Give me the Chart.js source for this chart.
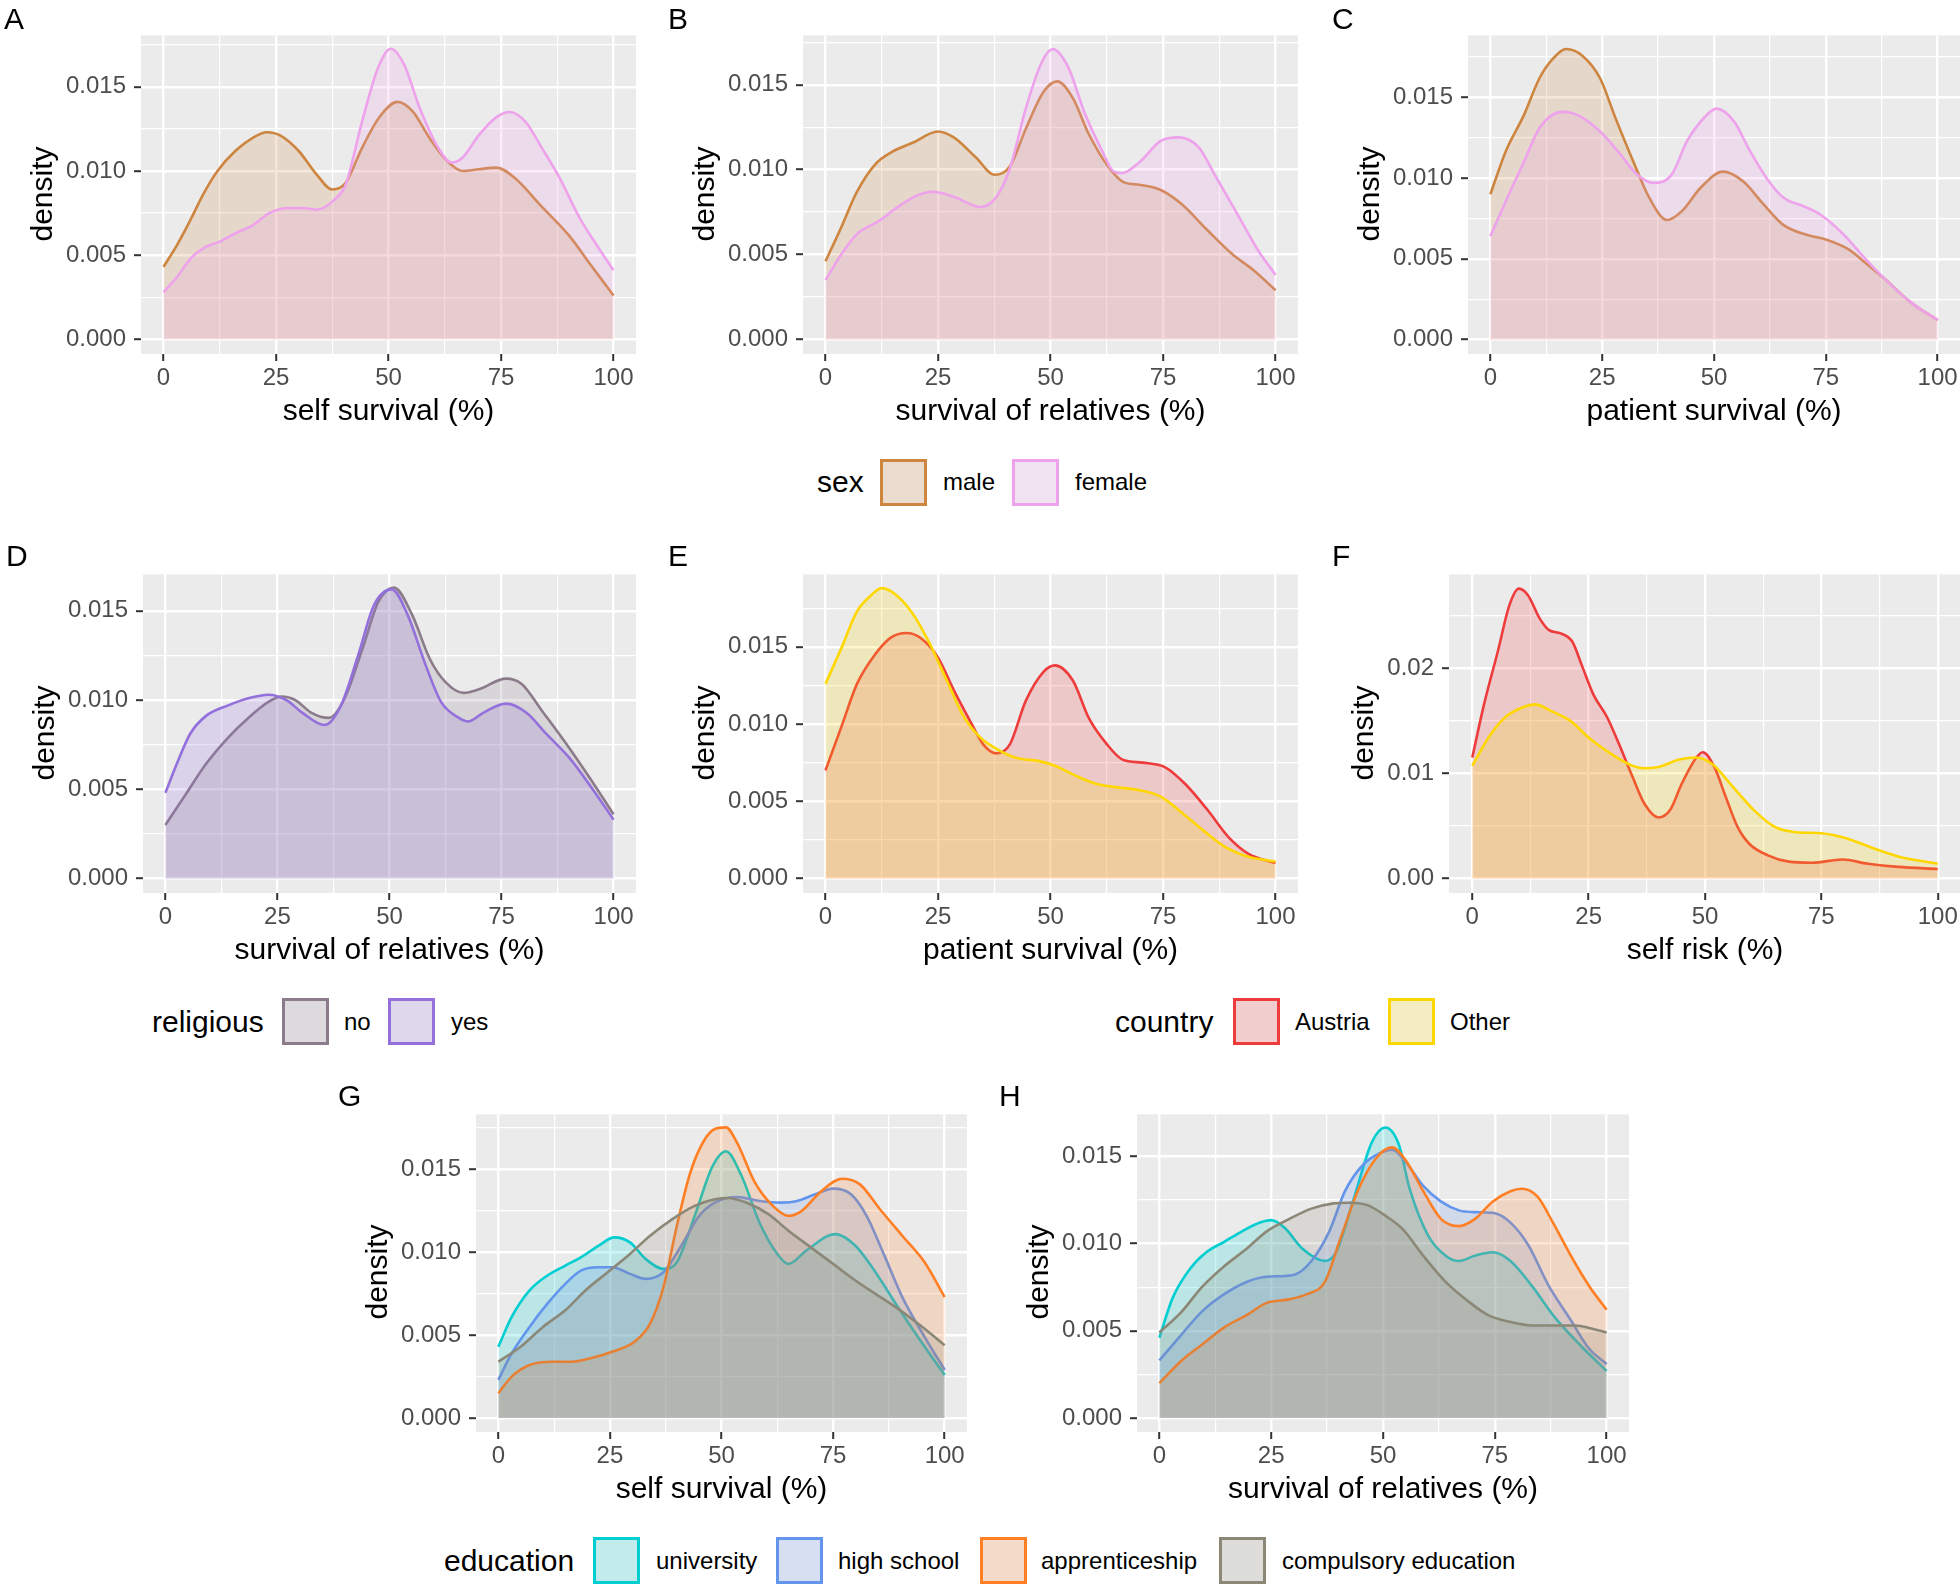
<!DOCTYPE html>
<html><head><meta charset="utf-8">
<script src="https://cdn.jsdelivr.net/npm/chart.js@4.4.1/dist/chart.umd.min.js"></script>
<style>
html,body{margin:0;padding:0;background:#fff;}
body{width:1960px;height:1589px;position:relative;overflow:hidden;font-family:'Liberation Sans',Arial,Helvetica,sans-serif;}
canvas{position:absolute;}
.t{position:absolute;white-space:nowrap;color:#000;}
.key{position:absolute;box-sizing:border-box;width:47px;height:47px;border:3px solid;}
</style></head><body>
<script>
// ---------------- DATA ----------------
const X_MAJOR = [0, 25, 50, 75, 100];
const X_LABELS = ['0', '25', '50', '75', '100'];
const Y_MAJOR = [0, 0.005, 0.010, 0.015];
const Y_LABELS = ['0.000', '0.005', '0.010', '0.015'];
const Y_MAJOR_F = [0, 0.01, 0.02];
const Y_LABELS_F = ['0.00', '0.01', '0.02'];

const SEX = ['male', 'female'];
const RELIGIOUS = ['no', 'yes'];
const COUNTRY = ['Austria', 'Other'];
const EDUCATION = ['university', 'high school', 'apprenticeship', 'compulsory education'];

// A: self survival by sex
const A_male = [[0,0.0043],[3,0.0056],[6,0.0071],[9,0.0087],[12,0.0100],[16,0.0112],[20,0.0120],[23,0.0123],[26,0.0121],[30,0.0112],[34,0.0098],[37.5,0.0089],[40.5,0.0093],[44,0.0113],[48,0.0132],[52,0.0141],[55.5,0.0135],[59,0.0120],[63,0.0106],[66.5,0.0100],[70,0.0101],[74,0.0102],[78,0.0096],[84,0.0079],[90,0.0062],[95,0.0044],[100,0.0026]];
const A_female = [[0,0.0028],[3,0.0037],[6,0.0048],[9.5,0.0055],[12.5,0.0058],[16,0.0063],[20,0.0068],[23.5,0.0075],[28,0.0078],[31,0.0078],[34,0.0077],[38,0.0083],[40.5,0.0092],[44,0.0128],[47.5,0.0160],[50.5,0.01726],[53.5,0.0163],[57,0.0137],[61,0.0114],[64,0.0105],[66.5,0.0108],[70,0.0121],[74,0.0132],[77,0.0135],[80.5,0.0129],[84,0.0114],[88,0.0096],[92.5,0.0072],[96.5,0.0055],[100,0.0041]];
// B: survival of relatives by sex
const B_male = [[0,0.0046],[3.5,0.0066],[7,0.0087],[11,0.0103],[14.5,0.0110],[19.5,0.0116],[25,0.01225],[28.5,0.0119],[33.5,0.0107],[37.5,0.0097],[41,0.0102],[44.5,0.0124],[48.5,0.0146],[51.5,0.0152],[55,0.0142],[58.5,0.0121],[62.5,0.0103],[66,0.0093],[70,0.0091],[74.5,0.0088],[79,0.0080],[85,0.0064],[90.5,0.0050],[95,0.0041],[100,0.0029]];
const B_female = [[0,0.0035],[3.5,0.0050],[7,0.0062],[12,0.0070],[15.5,0.0077],[20.5,0.0085],[24,0.0087],[28.5,0.0084],[34.5,0.0078],[38,0.0084],[41,0.0101],[44.5,0.0136],[48,0.0163],[50.5,0.0171],[54,0.0160],[57.5,0.0134],[61.5,0.0111],[64,0.0099],[66,0.0098],[70,0.0105],[74.5,0.0117],[78.5,0.0119],[83,0.0113],[86.5,0.0097],[91.5,0.0074],[96,0.0053],[100,0.0038]];
// C: patient survival by sex
const C_male = [[0,0.0090],[3.5,0.0117],[7.5,0.0139],[11,0.0162],[14,0.0174],[17,0.0180],[20.5,0.0176],[24.5,0.0162],[28,0.0137],[32,0.0110],[35.5,0.0088],[39.5,0.0074],[43,0.0080],[47,0.0094],[52,0.0104],[56.5,0.0098],[61,0.0084],[65.5,0.0071],[70.5,0.0065],[75,0.0062],[80,0.0056],[84.5,0.0046],[88,0.0038],[94,0.0023],[100,0.0012]];
const C_female = [[0,0.0064],[3.5,0.0086],[7.5,0.0110],[11,0.0131],[16,0.0141],[19.5,0.0139],[24.5,0.0129],[29,0.0115],[32.5,0.0103],[36.5,0.0097],[40.5,0.0102],[44,0.0123],[48,0.0138],[50.5,0.0143],[54.5,0.0135],[58,0.0117],[62,0.0099],[65.5,0.0088],[70.5,0.0082],[74,0.0077],[79,0.0065],[83.5,0.0051],[88,0.0038],[94,0.0023],[100,0.0012]];
// D: survival of relatives by religious
const D_no = [[0,0.0030],[4.5,0.0047],[9,0.0064],[14,0.0079],[18.5,0.0090],[23,0.0099],[26,0.0102],[29,0.0100],[32.5,0.0093],[36.5,0.0090],[40,0.0101],[44,0.0129],[47.5,0.0155],[51,0.0163],[55,0.0148],[59,0.0123],[62.5,0.0110],[66.5,0.0104],[70,0.0106],[76,0.0112],[79.5,0.0109],[84,0.0094],[89,0.0077],[94.5,0.0057],[100,0.0036]];
const D_yes = [[0,0.0048],[2.5,0.0064],[5.5,0.0081],[9,0.0091],[14,0.0097],[18.5,0.0101],[23,0.0103],[27,0.0100],[30.5,0.0093],[35.5,0.0086],[39,0.0096],[43,0.0125],[46.5,0.0153],[50.5,0.0162],[54,0.0148],[58,0.0120],[61.5,0.0099],[65.5,0.0090],[67.5,0.0088],[71,0.0093],[76,0.0098],[80.5,0.0093],[85,0.0081],[90,0.0068],[94.5,0.0053],[100,0.0033]];
// E: patient survival by country
const E_austria = [[0,0.0070],[3.5,0.0098],[7,0.0126],[11,0.0145],[14.5,0.0156],[18,0.0159],[21,0.0156],[25,0.0143],[28.5,0.0122],[32.5,0.0100],[35,0.0087],[38,0.0081],[41,0.0087],[44.5,0.0115],[48.5,0.0134],[51,0.0138],[55,0.0128],[58.5,0.0104],[62.5,0.0087],[66,0.0077],[70.5,0.0075],[75.5,0.0072],[80,0.0061],[85,0.0044],[89.5,0.0027],[94,0.0016],[100,0.0010]];
const E_other = [[0,0.0126],[3.5,0.0149],[7,0.0173],[10,0.0183],[12.5,0.0188],[15.5,0.0184],[19.5,0.0171],[23,0.0153],[27,0.0128],[30.5,0.0106],[34.5,0.0091],[38,0.0084],[42.5,0.0078],[47.5,0.0076],[51,0.0073],[56,0.0066],[60.5,0.0061],[65,0.0059],[70,0.0057],[74.5,0.0053],[79,0.0043],[84,0.0031],[88.5,0.0021],[94,0.0014],[100,0.0011]];
// F: self risk by country
const F_austria = [[0,0.0115],[2.5,0.0165],[5.5,0.0216],[8,0.0260],[10,0.02755],[12,0.0269],[14.5,0.0247],[16.5,0.0236],[19,0.0233],[21.5,0.0225],[23.5,0.0203],[26,0.0175],[29,0.0153],[31.5,0.0128],[34.5,0.0096],[37,0.0071],[40,0.0058],[42.5,0.0065],[45,0.0090],[48,0.0114],[49.5,0.0120],[52,0.0106],[54.5,0.0077],[57,0.0049],[59.5,0.0033],[63.5,0.0022],[68,0.0016],[73,0.0015],[79.5,0.0018],[85,0.0014],[91.5,0.0011],[100,0.0009]];
const F_other = [[0,0.0107],[3.5,0.0134],[7,0.0153],[11,0.0163],[13.5,0.01655],[17,0.0159],[21,0.0150],[25.5,0.0132],[30,0.0118],[34.5,0.0107],[37,0.01047],[40,0.0106],[44.5,0.0113],[48,0.0115],[51.5,0.0109],[56,0.0087],[60.5,0.0065],[65,0.0049],[69.5,0.0044],[75,0.0043],[80.5,0.0038],[86,0.0029],[91.5,0.0021],[100,0.0014]];
// G: self survival by education
const G_university = [[0,0.0043],[3,0.0061],[7,0.0077],[11,0.0086],[15,0.0092],[18.5,0.0097],[22.5,0.0104],[26,0.0109],[29.5,0.0106],[33,0.0096],[37,0.0090],[40,0.0094],[44,0.0122],[48,0.0152],[51,0.0161],[54.5,0.0146],[58.5,0.0118],[62.5,0.0099],[65,0.0093],[69,0.0101],[75.5,0.0111],[80,0.0104],[84.5,0.0088],[89.5,0.0067],[94.5,0.0047],[100,0.0026]];
const G_highschool = [[0,0.0023],[3,0.0039],[7,0.0055],[11,0.0069],[15,0.0081],[18.5,0.0089],[22.5,0.0091],[25.5,0.0091],[29.5,0.0087],[33,0.0084],[37,0.0088],[41,0.0104],[45,0.0122],[48.5,0.0130],[53.5,0.01334],[58.5,0.0131],[63.5,0.0130],[67,0.0131],[71,0.0135],[75,0.01384],[79,0.0135],[82.5,0.0122],[86.5,0.0098],[90.5,0.0073],[95.5,0.0049],[100,0.0029]];
const G_apprenticeship = [[0,0.0015],[3,0.0025],[7,0.0032],[12,0.0034],[16.5,0.0034],[20.5,0.0036],[25.5,0.0040],[30.5,0.0046],[34,0.0057],[37,0.0079],[40,0.0116],[43,0.0148],[46,0.0167],[48.5,0.01744],[51,0.01754],[53.5,0.0166],[57.5,0.0142],[61.5,0.0128],[65,0.0122],[68,0.0125],[72,0.0136],[77,0.01444],[81,0.0141],[85.5,0.0126],[90.5,0.0110],[95.5,0.0094],[100,0.0073]];
const G_compulsory = [[0,0.0034],[5,0.0043],[10,0.0055],[15,0.0065],[19.5,0.0077],[24.5,0.0088],[29.5,0.0099],[34,0.0110],[39,0.0120],[44,0.0128],[48.5,0.0132],[51.5,0.01328],[55.5,0.0130],[60.5,0.0123],[65,0.0113],[70,0.0103],[75,0.0093],[80,0.0083],[85,0.0074],[89.5,0.0066],[94.5,0.0056],[100,0.0044]];
// H: survival of relatives by education
const H_university = [[0,0.0046],[3,0.0069],[7,0.0086],[10.5,0.0095],[14.5,0.0101],[18.5,0.0107],[22.5,0.0112],[25,0.01134],[28,0.0109],[32,0.0097],[37,0.0090],[39.5,0.0095],[43.5,0.0126],[47.5,0.0158],[50.5,0.01665],[53.5,0.0157],[56,0.0131],[60,0.0105],[64,0.0093],[67,0.0090],[70.5,0.0093],[74.5,0.0095],[78.5,0.0090],[83.5,0.0075],[88,0.0059],[94,0.0042],[100,0.0027]];
const H_highschool = [[0,0.0033],[5,0.0048],[9.5,0.0061],[14.5,0.0071],[19.5,0.0078],[24,0.0081],[30,0.0082],[34,0.0090],[38,0.0107],[41.5,0.0130],[45.5,0.0145],[49.5,0.0152],[52,0.01538],[55,0.0147],[59,0.0133],[63,0.0124],[67,0.0119],[70.5,0.0118],[74.5,0.01176],[78.5,0.0112],[82.5,0.0099],[87,0.0076],[92,0.0056],[96,0.0040],[100,0.0031]];
const H_apprenticeship = [[0,0.0020],[5,0.0033],[9.5,0.0042],[14.5,0.0052],[19.5,0.0059],[24,0.0066],[29,0.0068],[33,0.0071],[37,0.0078],[40.5,0.0103],[44.5,0.0131],[48.5,0.0149],[52,0.01551],[55,0.0148],[59,0.0130],[63,0.0114],[67,0.0110],[70.5,0.0114],[74.5,0.0124],[78.5,0.0130],[81,0.01314],[84.5,0.0127],[88,0.0112],[92,0.0093],[96,0.0076],[100,0.0062]];
const H_compulsory = [[0,0.0049],[5,0.0061],[9.5,0.0075],[14.5,0.0087],[19.5,0.0097],[24,0.0107],[29,0.0114],[34,0.0120],[39,0.0123],[42.5,0.01234],[46.5,0.0122],[50.5,0.0116],[54.5,0.0108],[59,0.0093],[64,0.0078],[69,0.0067],[73.5,0.0059],[78.5,0.0055],[83.5,0.0053],[88,0.0053],[93,0.0053],[97,0.0051],[100,0.0049]];

// ---------------- STYLE / LAYOUT ----------------
const FONT = "'Liberation Sans', Arial, Helvetica, sans-serif";
const COL = {
  male:'#CD853F', female:'#EEA2EC',
  no:'#8B7B8B', yes:'#9370DB',
  Austria:'#EE3B3B', Other:'#FFD700',
  university:'#00CED1', 'high school':'#6495ED', apprenticeship:'#FF7F24', 'compulsory education':'#8B8878'
};
const ALPHA = 0.2;
function rgba(hex, a){const n=parseInt(hex.slice(1),16);return `rgba(${n>>16},${(n>>8)&255},${n&255},${a})`;}

const ROW = [{top:33, bottom:354, letter:29.5}, {top:572, bottom:893, letter:566.5}, {top:1112, bottom:1432, letter:1106.5}];
const PANELS = [
  {L:'A', lx:4,    row:0, left:141,  right:636,  ymin:-0.00087, ymax:0.01805, ticks:Y_MAJOR,   labels:Y_LABELS,   title:'self survival (%)',          yt:98, groups:SEX,       data:[A_male, A_female]},
  {L:'B', lx:668,  row:0, left:803,  right:1298, ymin:-0.00086, ymax:0.01791, ticks:Y_MAJOR,   labels:Y_LABELS,   title:'survival of relatives (%)',  yt:98, groups:SEX,       data:[B_male, B_female]},
  {L:'C', lx:1332, row:0, left:1468, right:1960, ymin:-0.00090, ymax:0.01884, ticks:Y_MAJOR,   labels:Y_LABELS,   title:'patient survival (%)',       yt:98, groups:SEX,       data:[C_male, C_female]},
  {L:'D', lx:6,    row:1, left:143,  right:636,  ymin:-0.00081, ymax:0.01704, ticks:Y_MAJOR,   labels:Y_LABELS,   title:'survival of relatives (%)',  yt:98, groups:RELIGIOUS, data:[D_no, D_yes]},
  {L:'E', lx:668,  row:1, left:803,  right:1298, ymin:-0.00094, ymax:0.01969, ticks:Y_MAJOR,   labels:Y_LABELS,   title:'patient survival (%)',       yt:98, groups:COUNTRY,   data:[E_austria, E_other]},
  {L:'F', lx:1332, row:1, left:1449, right:1961, ymin:-0.00138, ymax:0.0289,  ticks:Y_MAJOR_F, labels:Y_LABELS_F, title:'self risk (%)',              yt:85, groups:COUNTRY,   data:[F_austria, F_other]},
  {L:'G', lx:338,  row:2, left:476,  right:967,  ymin:-0.00084, ymax:0.01832, ticks:Y_MAJOR,   labels:Y_LABELS,   title:'self survival (%)',          yt:98, groups:EDUCATION, data:[G_university, G_highschool, G_apprenticeship, G_compulsory]},
  {L:'H', lx:999,  row:2, left:1137, right:1629, ymin:-0.00080, ymax:0.0174,  ticks:Y_MAJOR,   labels:Y_LABELS,   title:'survival of relatives (%)',  yt:98, groups:EDUCATION, data:[H_university, H_highschool, H_apprenticeship, H_compulsory]}
];
const LEGENDS = [
  {title:'sex',       tx:817,  cy:482,    items:SEX,       keys:[880, 1012],            labs:[943, 1075]},
  {title:'religious', tx:152,  cy:1021.5, items:RELIGIOUS, keys:[282, 388],             labs:[344, 451]},
  {title:'country',   tx:1115, cy:1021.5, items:COUNTRY,   keys:[1233, 1388],           labs:[1295, 1450]},
  {title:'education', tx:444,  cy:1560.5, items:EDUCATION, keys:[593, 776, 980, 1219],  labs:[656, 838, 1041, 1282]}
];

// ---------------- TEXT HELPERS ----------------
function text(str, x, baseline, size, align, color){
  const d=document.createElement('div'); d.className='t'; d.textContent=str;
  d.style.fontSize=size+'px'; d.style.lineHeight=size+'px';
  d.style.top=(baseline-0.8465*size)+'px'; d.style.left=x+'px';
  if(color) d.style.color=color;
  if(align==='center') d.style.transform='translateX(-50%)';
  document.body.appendChild(d); return d;
}
function vtext(str, cx, cy, size){
  const d=document.createElement('div'); d.className='t'; d.textContent=str;
  d.style.fontSize=size+'px'; d.style.lineHeight=size+'px';
  d.style.left=cx+'px'; d.style.top=cy+'px';
  d.style.transform='translate(-50%,-50%) rotate(-90deg)';
  document.body.appendChild(d);
}

// ---------------- CHARTS ----------------
const bgPlugin = {id:'panelbg', beforeDraw(chart){const {ctx, chartArea:a}=chart; ctx.save(); ctx.fillStyle='#EBEBEB'; ctx.fillRect(a.left,a.top,a.right-a.left,a.bottom-a.top); ctx.restore();}};
const near=(v,arr)=>arr.some(t=>Math.abs(t-v)<1e-9);

PANELS.forEach(P=>{
  const R=ROW[P.row];
  const PADL=140, PADT=20, PADR=30, PADB=60;
  const pw=P.right-P.left, ph=R.bottom-R.top;
  const cv=document.createElement('canvas');
  cv.width=pw+PADL+PADR; cv.height=ph+PADT+PADB;
  cv.style.left=(P.left-PADL)+'px'; cv.style.top=(R.top-PADT)+'px';
  document.body.appendChild(cv);

  const xMinor=[]; for(let i=0;i<X_MAJOR.length-1;i++) xMinor.push((X_MAJOR[i]+X_MAJOR[i+1])/2);
  const xAll=[...X_MAJOR, ...xMinor].sort((a,b)=>a-b);
  const yStep=P.ticks[1]-P.ticks[0];
  const yMinor=[]; P.ticks.forEach(t=>{ if(t+yStep/2<=P.ymax) yMinor.push(t+yStep/2); });
  const yAll=[...P.ticks, ...yMinor].sort((a,b)=>a-b);

  const n=P.data.length;
  const datasets=P.data.map((pts,i)=>{
    const c=COL[P.groups[i]];
    return {label:P.groups[i], data:pts.map(([x,y])=>({x,y})), borderColor:c, backgroundColor:rgba(c,ALPHA),
      fill:'origin', borderWidth:2.6, pointRadius:0, cubicInterpolationMode:'monotone', order:n-i};
  });

  new Chart(cv, {
    type:'line', data:{datasets}, plugins:[bgPlugin],
    options:{
      responsive:false, animation:false, devicePixelRatio:1,
      layout:{padding:{left:0, top:PADT, right:PADR, bottom:0}},
      plugins:{legend:{display:false}, tooltip:{enabled:false}},
      scales:{
        x:{type:'linear', min:-5, max:105,
          afterFit:s=>{s.height=PADB;},
          afterBuildTicks:s=>{s.ticks=xAll.map(v=>({value:v}));},
          ticks:{autoSkip:false, maxRotation:0, minRotation:0, padding:3, color:'#4D4D4D', font:{family:FONT, size:24},
            callback:(v)=>{const k=X_MAJOR.findIndex(t=>Math.abs(t-v)<1e-9); return k>=0?X_LABELS[k]:'';}},
          grid:{color:'#FFFFFF', lineWidth:c=>(c.tick&&near(c.tick.value,X_MAJOR))?2.4:1.2,
            drawTicks:true, tickLength:7, tickWidth:2,
            tickColor:c=>(c.tick&&near(c.tick.value,X_MAJOR))?'#333333':'rgba(0,0,0,0)'},
          border:{display:false}},
        y:{type:'linear', min:P.ymin, max:P.ymax,
          afterFit:s=>{s.width=PADL;},
          afterBuildTicks:s=>{s.ticks=yAll.map(v=>({value:v}));},
          ticks:{autoSkip:false, padding:8, color:'#4D4D4D', font:{family:FONT, size:24},
            callback:(v)=>{const k=P.ticks.findIndex(t=>Math.abs(t-v)<1e-9); return k>=0?P.labels[k]:'';}},
          grid:{color:'#FFFFFF', lineWidth:c=>(c.tick&&near(c.tick.value,P.ticks))?2.4:1.2,
            drawTicks:true, tickLength:7, tickWidth:2,
            tickColor:c=>(c.tick&&near(c.tick.value,P.ticks))?'#333333':'rgba(0,0,0,0)'},
          border:{display:false}}
      }
    }
  });

  text(P.L, P.lx, R.letter, 30);
  text(P.title, (P.left+Math.min(P.right,1960+0))/2 + (P.right>1950? (P.right-1960)/2:0), R.bottom+66.5, 30, 'center');
  vtext('density', P.left-P.yt-1, (R.top+R.bottom)/2, 30);
});

// ---------------- LEGENDS ----------------
LEGENDS.forEach(Lg=>{
  text(Lg.title, Lg.tx, Lg.cy+0.3465*30, 30);
  Lg.items.forEach((it,i)=>{
    const k=document.createElement('div'); k.className='key';
    const c=COL[it];
    k.style.left=Lg.keys[i]+'px'; k.style.top=(Lg.cy-23.5)+'px';
    k.style.borderColor=c;
    k.style.background=`linear-gradient(${rgba(c,ALPHA)},${rgba(c,ALPHA)}), #F2F2F2`;
    document.body.appendChild(k);
    text(it, Lg.labs[i], Lg.cy+0.3465*24, 24);
  });
});
</script>
</body></html>
